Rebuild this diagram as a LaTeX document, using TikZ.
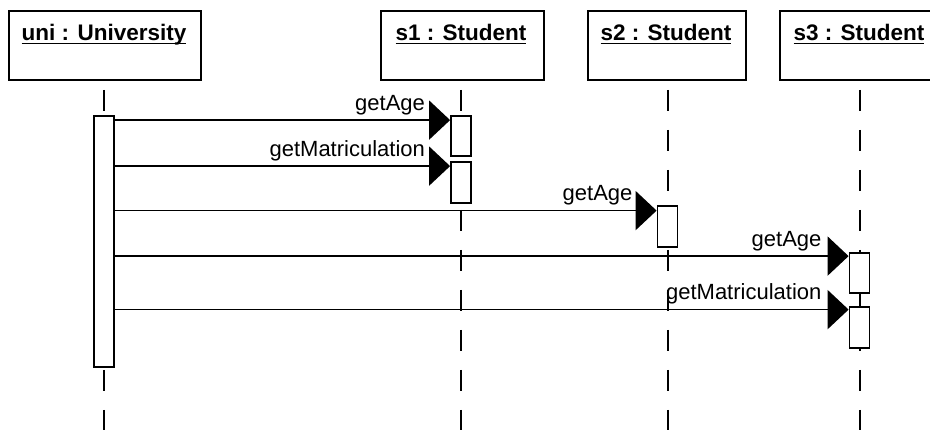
\documentclass[tikz,border=0pt]{standalone}
\usepackage{fontspec}
\setmainfont{Liberation Sans}
\usetikzlibrary{arrows.meta}
\newsavebox{\ulbox}
\newcommand{\myul}[1]{\sbox{\ulbox}{#1}\rlap{\rule[-3.5pt]{\wd\ulbox}{1.6pt}}\usebox{\ulbox}}
\begin{document}
\begin{tikzpicture}[x=1pt,y=-1pt,
  objbox/.style={draw,line width=1.8pt,minimum width=#1,minimum height=69pt,inner sep=0pt,anchor=north west},
  title/.style={anchor=base,inner sep=0pt,font=\fontsize{22.5}{26}\selectfont\bfseries},
  lifeline/.style={line width=1.8pt,dash pattern=on 21pt off 19pt},
  act/.style={draw,fill=white,line width=1.8pt,minimum width=20pt,minimum height=#1,inner sep=0pt},
  msg/.style={line width=1.8pt,-{Triangle[length=21pt,width=39pt]}},
  mlabel/.style={anchor=base east,inner sep=0pt,font=\fontsize{22}{26}\selectfont}
]
\useasboundingbox (0,0) rectangle (930,430);
\clip (0,0) rectangle (930,430);
\fill[white] (0,0) rectangle (930,430);

% object boxes
\node[objbox=192pt] (uni) at (8,10) {};
\node[objbox=163pt] (s1) at (380,10) {};
\node[objbox=158pt] (s2) at (587,10) {};
\node[objbox=162pt] (s3) at (779,10) {};

\node[title] (tuni) at (104,41) {\myul{uni : University}};
\node[title] (ts1) at (461,41) {\myul{s1 : Student}};
\node[title] (ts2) at (666,41) {\myul{s2 : Student}};
\node[title] (ts3) at (859,41) {\myul{s3 : Student}};

% lifelines
\coordinate (luT) at (104,90); \coordinate (luB) at (104,432);
\coordinate (l1T) at (461,90); \coordinate (l1B) at (461,432);
\coordinate (l2T) at (668,90); \coordinate (l2B) at (668,432);
\coordinate (l3T) at (860,90); \coordinate (l3B) at (860,432);
\draw[lifeline] (luT) -- (luB);
\draw[lifeline] (l1T) -- (l1B);
\draw[lifeline] (l2T) -- (l2B);
\draw[lifeline] (l3T) -- (l3B);

% activations
\node[act=251pt] (ua) at (104,241.5) {};
\node[act=40pt] (a1) at (461,136) {};
\node[act=41pt] (a2) at (461,182.5) {};
\node[act=41pt] (a3) at (667.5,226.5) {};
\node[act=40pt] (a4) at (859.5,273) {};
\node[act=41pt] (a5) at (859.5,327.5) {};

% message anchor points
\coordinate (m1) at ([yshift=-5pt]a1.north west);
\coordinate (m2) at ([yshift=-5pt]a2.north west);
\coordinate (m3) at ([yshift=-5.5pt]a3.north west);
\coordinate (m4) at ([yshift=-4pt]a4.north west);
\coordinate (m5) at ([yshift=-3.5pt]a5.north west);

\draw[msg] (m1 -| ua.east) -- (m1);
\draw[msg] (m2 -| ua.east) -- (m2);
\draw[msg] (m3 -| ua.east) -- (m3);
\draw[msg] (m4 -| ua.east) -- (m4);
\draw[msg] (m5 -| ua.east) -- (m5);

\node[mlabel] (lb1) at ([xshift=-25pt,yshift=10pt]m1) {getAge};
\node[mlabel] (lb2) at ([xshift=-25pt,yshift=10pt]m2) {getMatriculation};
\node[mlabel] (lb3) at ([xshift=-24pt,yshift=10pt]m3) {getAge};
\node[mlabel] (lb4) at ([xshift=-27pt,yshift=10pt]m4) {getAge};
\node[mlabel] (lb5) at ([xshift=-27pt,yshift=10pt]m5) {getMatriculation};
\end{tikzpicture}
\end{document}
